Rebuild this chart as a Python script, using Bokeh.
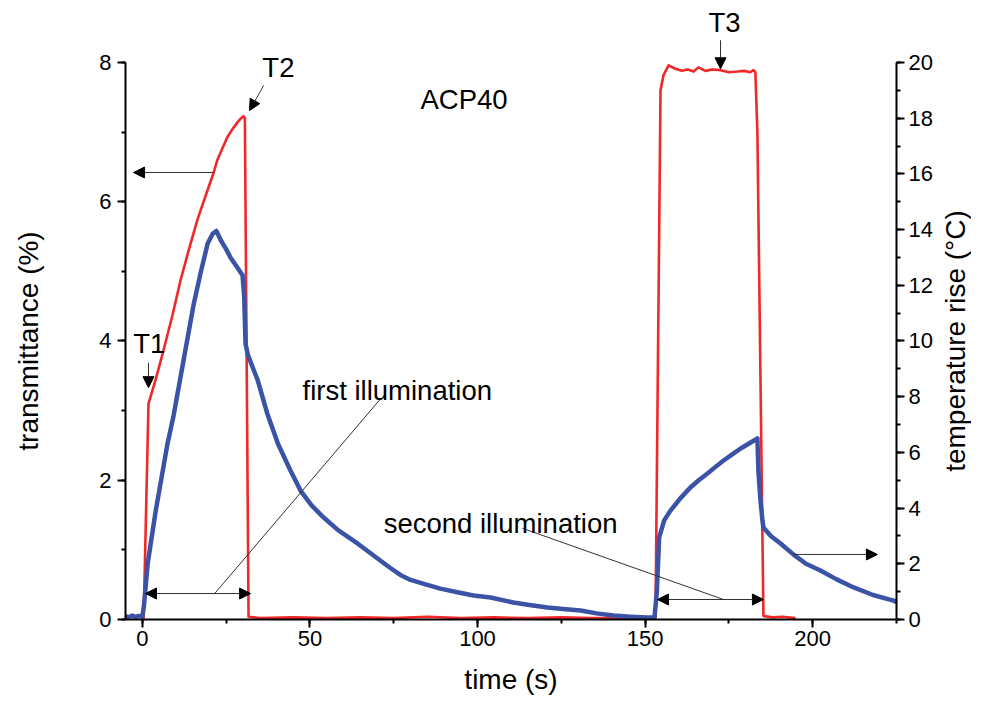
import math
from bokeh.plotting import figure
from bokeh.models import Range1d, LinearAxis, SingleIntervalTicker, Label, Arrow, NormalHead
from bokeh.embed import file_html
from bokeh.resources import INLINE

# ---- data ----
# transmittance (%), left axis
red_t = [0.0, 0.4, 1.85, 4.0, 6.3, 9.0, 11.4, 14.0, 16.5, 19.0,
         21.3, 22.4, 24.0, 25.4, 27.0, 28.4, 29.5, 30.2, 30.6, 31.7,
         35, 45, 55, 65, 75, 85, 95, 105, 115, 125,
         134, 145, 153.1, 154.6, 155.5, 157.0, 159.0, 161.0, 162.7, 164.5,
         165.9, 168.0, 170.0, 172.5, 175.0, 177.6, 179.5, 181.4, 182.3, 182.9,
         183.5, 185.3, 188, 191, 194.9]
red_T = [0.0, 0.0, 3.1, 3.45, 3.86, 4.37, 4.87, 5.33, 5.75, 6.1,
         6.42, 6.6, 6.78, 6.93, 7.05, 7.14, 7.2, 7.23, 7.2, 0.04,
         0.02, 0.03, 0.02, 0.03, 0.02, 0.04, 0.02, 0.03, 0.02, 0.03,
         0.02, 0.02, 0.02, 7.6, 7.82, 7.96, 7.91, 7.88, 7.9, 7.87,
         7.93, 7.88, 7.9, 7.89, 7.86, 7.87, 7.88, 7.86, 7.89, 7.86,
         7.0, 0.05, 0.03, 0.04, 0.02]

# temperature rise (degC), right axis
blue_t = [-5.0, -4.0, -3.0, -2.0, -1.0, 0.0, 0.5, 1.6, 4.0, 7.5,
          9.3, 12.3, 15.3, 17.5, 19.5, 21.0, 22.1, 23.5, 25.0, 26.3,
          28.0, 29.9, 30.4, 30.8, 31.5, 34.4, 37.4, 40.5, 44.2, 47.2,
          50.5, 54.1, 58.5, 64.2, 69.0, 74.0, 77.0, 80.0, 84.0, 88.9,
          94.0, 98.8, 103.9, 110.7, 115.5, 120.9, 125.5, 130.8, 135.5, 140.6,
          145.5, 150.7, 152.8, 153.5, 154.2, 155.7, 157.5, 160.5, 163.5, 166.0,
          168.6, 171.0, 173.4, 176.0, 178.5, 181.0, 183.5, 183.8, 184.4, 185.0,
          185.3, 187.5, 190.4, 194.3, 198.0, 202.3, 207.0, 212.2, 218.0, 224.1,
          225.0]
blue_C = [0.12, 0.08, 0.14, 0.09, 0.13, 0.1, 0.5, 2.0, 3.9, 6.3,
          7.3, 9.3, 11.3, 12.5, 13.5, 13.85, 13.95, 13.6, 13.3, 13.0,
          12.7, 12.36, 11.6, 9.9, 9.5, 8.6, 7.35, 6.3, 5.35, 4.63,
          4.1, 3.66, 3.2, 2.73, 2.3, 1.85, 1.6, 1.42, 1.28, 1.11,
          0.98, 0.86, 0.79, 0.61, 0.52, 0.43, 0.38, 0.32, 0.22, 0.14,
          0.1, 0.07, 0.07, 1.0, 2.95, 3.56, 3.9, 4.35, 4.74, 5.0,
          5.24, 5.48, 5.71, 5.93, 6.14, 6.32, 6.5, 5.35, 4.3, 3.56,
          3.3, 3.0, 2.73, 2.33, 2.0, 1.76, 1.45, 1.15, 0.88, 0.68,
          0.62]

x_label = "time (s)"
y_label = "transmittance (%)"
y2_label = "temperature rise (°C)"
title_text = "ACP40"

X_AXIS = (-5, 225)
Y_AXIS = (0, 8)
Y2_AXIS = (0, 20)

FONT = "Liberation Sans"
RATIO = 2.5     # right-axis units per left-axis unit
# view window (data units) around the axes, leaving room for ticks and titles
VX = (-42.3, 247.37)
VY = (-1.0916, 8.8905)

p = figure(width=971, height=695, x_range=Range1d(*VX), y_range=Range1d(*VY),
           output_backend="svg", toolbar_location=None, min_border=0,
           min_border_left=0, min_border_right=0, min_border_top=0, min_border_bottom=0)
p.extra_y_ranges = {"temp": Range1d(VY[0] * RATIO, VY[1] * RATIO)}
p.xgrid.visible = False
p.ygrid.visible = False
p.outline_line_color = None
p.background_fill_color = "white"
p.border_fill_color = "white"

p.line(red_t, red_T, line_color="#f02828", line_width=2.6, line_join="round")
p.line(blue_t, blue_C, y_range_name="temp", line_color="#3b53a6", line_width=4.5, line_join="round")

p.xaxis.ticker = SingleIntervalTicker(interval=50, num_minor_ticks=2)
p.yaxis.ticker = SingleIntervalTicker(interval=2, num_minor_ticks=2)
p.xaxis.fixed_location = Y_AXIS[0]
p.xaxis.bounds = X_AXIS
p.yaxis.fixed_location = X_AXIS[0]
p.yaxis.bounds = Y_AXIS

right = LinearAxis(y_range_name="temp", ticker=SingleIntervalTicker(interval=2, num_minor_ticks=2),
                   bounds=Y2_AXIS, fixed_location=X_AXIS[1])
p.add_layout(right, "right")

for ax in [p.xaxis[0], p.yaxis[0], right]:
    ax.axis_line_width = 2
    ax.axis_line_color = "black"
    ax.major_tick_line_width = 2
    ax.minor_tick_line_width = 2
    ax.major_tick_line_color = "black"
    ax.minor_tick_line_color = "black"
    ax.major_tick_in = 0
    ax.major_tick_out = 8
    ax.minor_tick_in = 0
    ax.minor_tick_out = 4
    ax.major_label_text_font = FONT
    ax.major_label_text_font_size = "22px"
    ax.major_label_text_color = "black"

p.xaxis.major_label_standoff = 4
p.yaxis.major_label_standoff = 6
right.major_label_standoff = 4


def lab(x, y, text, align="center", baseline="middle", size="27.5px", angle=0.0):
    p.add_layout(Label(x=x, y=y, text=text, text_font=FONT, text_font_size=size, angle=angle,
                       text_color="black", text_align=align, text_baseline=baseline))


def arrow(x0, y0, x1, y1, both=False):
    head = NormalHead(size=11, fill_color="black", line_color="black", line_width=1)
    start = NormalHead(size=11, fill_color="black", line_color="black", line_width=1) if both else None
    p.add_layout(Arrow(start=start, end=head, x_start=x0, y_start=y0, x_end=x1, y_end=y1,
                       line_color="#333333", line_width=1))


# axis titles
lab(110.0, -0.86, x_label, size="28px")
lab(-34.0, 4.0, y_label, size="28px", angle=math.pi / 2)
lab(242.5, 4.0, y2_label, size="28px", angle=math.pi / 2)

# annotations
lab(96.0, 7.47, title_text)
lab(2.1, 3.96, "T1")
lab(40.6, 7.93, "T2")
lab(173.7, 8.57, "T3")
lab(47.8, 3.29, "first illumination", align="left", baseline="alphabetic")
lab(72.0, 1.38, "second illumination", align="left", baseline="alphabetic")

arrow(1.85, 3.69, 1.85, 3.33)
arrow(36.2, 7.67, 32.0, 7.31)
arrow(172.5, 8.32, 172.5, 7.91)
arrow(21.3, 6.42, -2.6, 6.42)
arrow(194.3, 0.934, 219.3, 0.934)
arrow(0.95, 0.373, 32.3, 0.373, both=True)
arrow(153.7, 0.287, 185.3, 0.287, both=True)

# leader lines
p.segment(x0=[71.1, 113.4], y0=[3.17, 1.31], x1=[21.6, 173.4], y1=[0.373, 0.287],
          line_color="#333333", line_width=1)

open("out.html", "w").write(file_html(p, INLINE))
